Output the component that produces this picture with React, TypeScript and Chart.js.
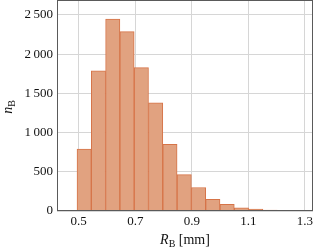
import React, { useEffect, useRef } from "react";
import { Chart, registerables } from "chart.js";

Chart.register(...registerables);

// Histogram bin centres (mm) and counts
const binCenters = [0.5193, 0.5698, 0.6204, 0.6709, 0.7215, 0.772, 0.8226, 0.8731, 0.9237, 0.9742, 1.0248, 1.0754, 1.1259, 1.1765, 1.227];
const counts = [791, 1789, 2449, 2287, 1828, 1381, 851, 463, 300, 149, 85, 42, 25, 13, 8];
const xTicks = [0.5, 0.7, 0.9, 1.1, 1.3];
const yTicks = [0, 500, 1000, 1500, 2000, 2500];
const xRange = [0.4233, 1.3283];
const yRange = [0, 2691];

const FONT = "'Liberation Serif', 'DejaVu Serif', serif";

const fmtThousands = (v: number) => {
  const s = String(Math.round(v));
  return s.length > 3 ? s.slice(0, s.length - 3) + "\u2009" + s.slice(s.length - 3) : s;
};

const framePlugin = {
  id: "frameAndTitles",
  afterDraw(chart: any) {
    const { ctx, chartArea } = chart;
    const { left, right, top, bottom } = chartArea;
    ctx.save();
    ctx.strokeStyle = "#5a5a5a";
    ctx.lineWidth = 1;
    ctx.strokeRect(Math.round(left) + 0.5, Math.round(top) + 0.5, Math.round(right - left) - 1, Math.round(bottom - top) - 1);

    const drawSub = (main: string, sub: string, rest: string, cx: number, cy: number, rot: number) => {
      ctx.save();
      ctx.translate(cx, cy);
      ctx.rotate(rot);
      ctx.fillStyle = "#111";
      ctx.textBaseline = "alphabetic";
      ctx.textAlign = "left";
      const fMain = `italic 14px ${FONT}`;
      const fSub = `10px ${FONT}`;
      const fRest = `14px ${FONT}`;
      ctx.font = fMain;
      const w1 = ctx.measureText(main).width;
      ctx.font = fSub;
      const w2 = ctx.measureText(sub).width;
      ctx.font = fRest;
      const w3 = rest ? ctx.measureText(rest).width : 0;
      let x = -(w1 + w2 + w3) / 2;
      ctx.font = fMain;
      ctx.fillText(main, x, 0);
      x += w1;
      ctx.font = fSub;
      ctx.fillText(sub, x, 3);
      x += w2;
      if (rest) {
        ctx.font = fRest;
        ctx.fillText(rest, x, 0);
      }
      ctx.restore();
    };
    drawSub("R", "B", " [mm]", (left + right) / 2, 243.5, 0);
    drawSub("n", "B", "", 12, 107, -Math.PI / 2);
    ctx.restore();
  },
};

export default function App() {
  const ref = useRef<HTMLCanvasElement | null>(null);
  useEffect(() => {
    if (!ref.current) return;
    const chart = new Chart(ref.current, {
      type: "bar",
      data: {
        datasets: [
          {
            data: binCenters.map((x, i) => ({ x, y: counts[i] })),
            backgroundColor: "rgb(225, 162, 128)",
            borderColor: "rgb(214, 116, 72)",
            borderWidth: 1,
            barPercentage: 1,
            categoryPercentage: 1,
          } as any,
        ],
      },
      options: {
        animation: false,
        responsive: true,
        maintainAspectRatio: false,
        layout: { padding: { left: 0, right: 6, top: 0, bottom: 0 } },
        plugins: { legend: { display: false }, tooltip: { enabled: false } },
        scales: {
          x: {
            type: "linear",
            offset: false,
            min: xRange[0],
            max: xRange[1],
            afterBuildTicks: (s: any) => {
              s.ticks = xTicks.map((v) => ({ value: v }));
            },
            afterFit: (s: any) => {
              s.height = 41;
              s.paddingLeft = 0;
              s.paddingRight = 0;
            },
            grid: { color: "#d6d6d6", drawTicks: false, lineWidth: 1, offset: false },
            border: { display: false },
            ticks: {
              padding: 3,
              color: "#111",
              font: { family: FONT, size: 13 },
              callback: (v: any) => Number(v).toFixed(1),
              maxRotation: 0,
            },
          },
          y: {
            type: "linear",
            min: yRange[0],
            max: yRange[1],
            afterBuildTicks: (s: any) => {
              s.ticks = yTicks.map((v) => ({ value: v }));
            },
            afterFit: (s: any) => {
              s.width = 57;
              s.paddingTop = 0;
              s.paddingBottom = 0;
            },
            grid: { color: "#d6d6d6", drawTicks: false, lineWidth: 1 },
            border: { display: false },
            ticks: {
              padding: 4,
              color: "#111",
              font: { family: FONT, size: 13 },
              callback: (v: any) => fmtThousands(Number(v)),
            },
          },
        },
      } as any,
      plugins: [framePlugin],
    });
    return () => chart.destroy();
  }, []);
  return (
    <div style={{ position: "fixed", left: 0, top: 0, width: 319, height: 252, background: "#fff" }}>
      <canvas ref={ref} />
    </div>
  );
}
